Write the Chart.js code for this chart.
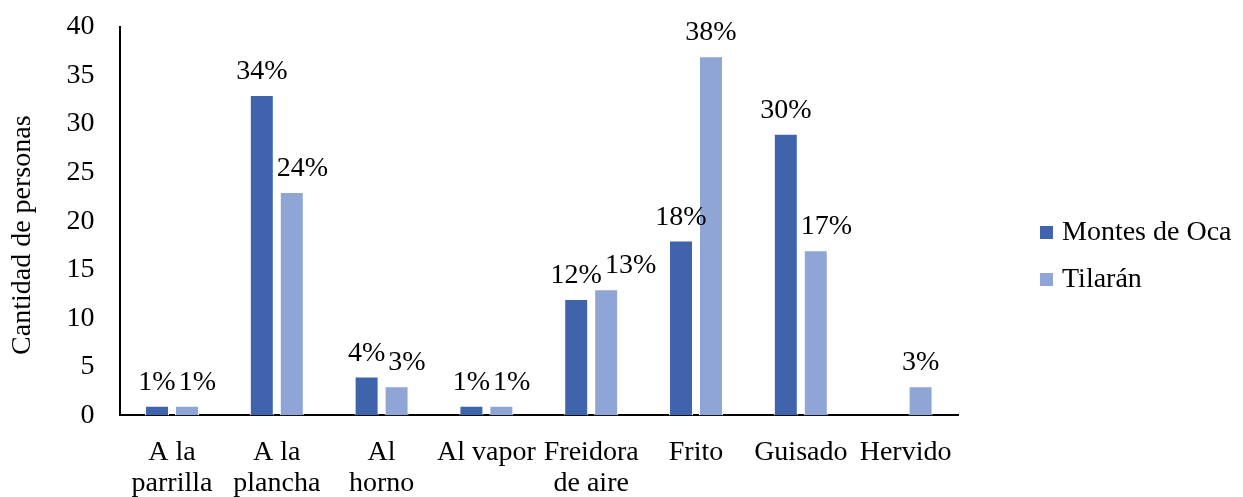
<!DOCTYPE html>
<html>
<head>
<meta charset="utf-8">
<script src="https://cdn.jsdelivr.net/npm/chart.js@4/dist/chart.umd.min.js"></script>
<style>
  html, body { margin: 0; padding: 0; background: #fff; }
  #wrap { width: 1243px; height: 497px; }
</style>
</head>
<body>
<div id="wrap"><canvas id="chart"></canvas></div>
<script>
const categories = [
  ["A la", "parrilla"], ["A la", "plancha"], ["Al", "horno"], "Al vapor",
  ["Freidora", "de aire"], "Frito", "Guisado", "Hervido"
];
const montesDeOca = [1, 33, 4, 1, 12, 18, 29, 0];
const tilaran = [1, 23, 3, 1, 13, 37, 17, 3];
const montesLabels = ["1%", "34%", "4%", "1%", "12%", "18%", "30%", ""];
const tilaranLabels = ["1%", "24%", "3%", "1%", "13%", "38%", "17%", "3%"];
const yTicks = { min: 0, max: 40, step: 5 };

const FONT = "'Liberation Serif', 'Times New Roman', serif";
const SIZE = 28;

/* percent labels above bars, second label nudged right when it would collide */
const pctLabels = {
  id: "pctLabels",
  afterDatasetsDraw(chart) {
    const ctx = chart.ctx;
    ctx.save();
    ctx.font = SIZE + "px " + FONT;
    ctx.fillStyle = "#000";
    ctx.textAlign = "center";
    ctx.textBaseline = "alphabetic";
    const ds0 = chart.data.datasets[0], ds1 = chart.data.datasets[1];
    const m0 = chart.getDatasetMeta(0).data, m1 = chart.getDatasetMeta(1).data;
    const GAP = 3, ASC = 20;
    m0.forEach((bar0, j) => {
      const bar1 = m1[j];
      const t0 = ds0.pct[j], t1 = ds1.pct[j];
      const y0 = bar0.y - 16, y1 = bar1.y - 16;
      let x1 = bar1.x;
      if (t0) ctx.fillText(t0, bar0.x, y0);
      if (t1) {
        const w1 = ctx.measureText(t1).width;
        let minLeft = -Infinity;
        // label sitting beside the taller dark bar
        if (y1 > bar0.y) minLeft = bar0.x + bar0.width / 2 + GAP;
        // label sharing a band with the dark label
        if (t0 && Math.abs(y1 - y0) < ASC) {
          const w0 = ctx.measureText(t0).width;
          minLeft = Math.max(minLeft, bar0.x + w0 / 2 + GAP);
        }
        if (x1 - w1 / 2 < minLeft) x1 = minLeft + w1 / 2;
        ctx.fillText(t1, x1, y1);
      }
    });
    ctx.restore();
  }
};

/* legend at right, Excel style */
const sideLegend = {
  id: "sideLegend",
  afterDraw(chart) {
    const ctx = chart.ctx;
    ctx.save();
    ctx.font = SIZE + "px " + FONT;
    ctx.textBaseline = "middle";
    ctx.textAlign = "left";
    chart.data.datasets.forEach((ds, i) => {
      const cy = 232 + i * 47;
      ctx.fillStyle = ds.backgroundColor;
      ctx.fillRect(1040, cy - 6, 13, 13);
      ctx.fillStyle = "#000";
      ctx.fillText(ds.label, 1062, cy + 1);
    });
    ctx.restore();
  }
};

new Chart(document.getElementById("chart"), {
  type: "bar",
  data: {
    labels: categories,
    datasets: [
      {
        label: "Montes de Oca",
        data: montesDeOca,
        pct: montesLabels,
        backgroundColor: "#3F64AC",
        borderColor: "#ffffff",
        borderWidth: 1,
      },
      {
        label: "Tilarán",
        data: tilaran,
        pct: tilaranLabels,
        backgroundColor: "#8FA5D6",
        borderColor: "#ffffff",
        borderWidth: 1,
      },
    ],
  },
  options: {
    responsive: true,
    maintainAspectRatio: false,
    animation: false,
    categoryPercentage: 0.572,
    barPercentage: 0.8,
    layout: { padding: { top: 27, left: 0, right: 285, bottom: -24 } },
    plugins: {
      tooltip: { enabled: false },
      legend: { display: false },
    },
    scales: {
      x: {
        grid: { display: false, drawTicks: false },
        border: { color: "#000", width: 2 },
        ticks: {
          color: "#000",
          font: { family: FONT, size: SIZE, lineHeight: 1.1 },
          maxRotation: 0,
          autoSkip: false,
          padding: 22,
        },
      },
      y: {
        min: yTicks.min,
        max: yTicks.max,
        grid: { display: false, drawTicks: false },
        border: { color: "#000", width: 2 },
        ticks: {
          stepSize: yTicks.step,
          color: "#000",
          font: { family: FONT, size: SIZE },
          padding: 25,
        },
        title: {
          display: true,
          text: "Cantidad de personas    ",
          color: "#000",
          font: { family: FONT, size: SIZE },
          padding: { top: 6, bottom: 2 },
        },
        afterFit(scale) {
          scale.paddingTop = 0;
          scale.paddingBottom = 0;
        },
      },
    },
  },
  plugins: [pctLabels, sideLegend],
});
</script>
</body>
</html>
